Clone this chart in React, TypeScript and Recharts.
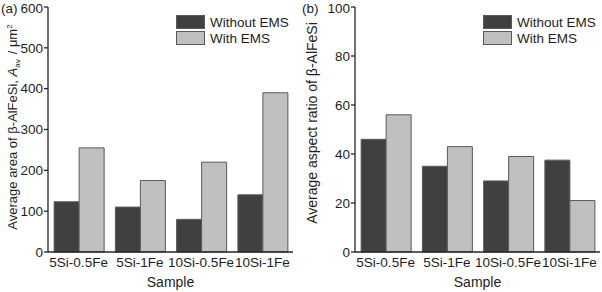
import React from 'react'
import { BarChart, Bar, XAxis, YAxis, Legend } from 'recharts'

const samples = ['5Si-0.5Fe', '5Si-1Fe', '10Si-0.5Fe', '10Si-1Fe']
const seriesNames = ['Without EMS', 'With EMS']
const areaWithout = [123, 110, 80, 140]
const areaWith = [255, 175, 220, 390]
const ratioWithout = [46, 35, 29, 37.5]
const ratioWith = [56, 43, 39, 21]
const areaTicks = [0, 100, 200, 300, 400, 500, 600]
const ratioTicks = [0, 20, 40, 60, 80, 100]

const DARK = '#404040'
const LIGHT = '#c0c0c0'
const EDGE = '#5a5a5a'
const AXIS = '#262626'
const TEXT = '#1e1e1e'
const FONT = '"Liberation Sans", Arial, sans-serif'

const areaData = samples.map((s, i) => ({ sample: s, without: areaWithout[i], with: areaWith[i] }))
const ratioData = samples.map((s, i) => ({ sample: s, without: ratioWithout[i], with: ratioWith[i] }))

function LegendBox({ payload }: any) {
    const items = [...(payload || [])].sort((a: any, b: any) => seriesNames.indexOf(a.value) - seriesNames.indexOf(b.value))
    return (
        <div style={{ fontFamily: FONT, fontSize: 13.5, color: TEXT }}>
            {items.map((p: any) => (
                <div key={p.value} style={{ display: 'flex', alignItems: 'center', height: 16 }}>
                    <span style={{ width: 27, height: 12, background: p.color, border: `1px solid ${EDGE}`, marginRight: 5 }} />
                    <span>{p.value}</span>
                </div>
            ))}
        </div>
    )
}

function AreaTitle({ viewBox }: any) {
    const bx = viewBox.x + 17
    const cy = 127
    return (
        <text x={bx} y={cy} transform={`rotate(-90 ${bx} ${cy})`} textAnchor="middle"
            fontFamily={FONT} fontSize={13} fill={TEXT}>
            <tspan>Average area of β-AlFeSi, </tspan>
            <tspan fontStyle="italic">A</tspan>
            <tspan fontSize={8} dy={3}>av</tspan>
            <tspan dy={-3} dx={5}>/ μm</tspan>
            <tspan fontSize={8} dy={-5}>2</tspan>
        </text>
    )
}

function RatioTitle({ viewBox }: any) {
    const bx = viewBox.x + 17
    const cy = 123
    return (
        <text x={bx} y={cy} transform={`rotate(-90 ${bx} ${cy})`} textAnchor="middle"
            fontFamily={FONT} fontSize={14} fill={TEXT}>
            Average aspect ratio of β-AlFeSi
        </text>
    )
}

const tickStyle = { fontSize: 13.5, fill: TEXT, fontFamily: FONT }

function Panel({ data, ticks, max, title, width, left, legendLeft }: any) {
    return (
        <BarChart width={width} height={292} data={data}
            margin={{ top: 7, right: width - left - 245, left: 0, bottom: 0 }}
            barCategoryGap="10%" barGap={0}>
            <XAxis xAxisId="top" orientation="top" dataKey="sample" height={0} tick={false}
                tickLine={false} axisLine={{ stroke: AXIS, strokeWidth: 1.3 }} />
            <YAxis yAxisId="right" orientation="right" width={0} tick={false} tickLine={false}
                domain={[0, max]} axisLine={{ stroke: AXIS, strokeWidth: 1.3 }} />
            <XAxis dataKey="sample" height={40} tickLine={false} tickSize={3} tickMargin={2}
                axisLine={{ stroke: AXIS, strokeWidth: 1.3 }} tick={tickStyle} interval={0}
                label={{ value: 'Sample', position: 'insideBottom', offset: 5, fontSize: 14, fill: TEXT, fontFamily: FONT }} />
            <YAxis width={left} domain={[0, max]} ticks={ticks} tickSize={4} tickMargin={1}
                axisLine={{ stroke: AXIS, strokeWidth: 1.3 }} tickLine={{ stroke: AXIS, strokeWidth: 1.3 }}
                tick={tickStyle} label={title} />
            <Legend layout="vertical" align="center" verticalAlign="middle" content={<LegendBox />}
                wrapperStyle={{ left: legendLeft, top: 14, width: 'auto' }} />
            <Bar dataKey="without" name="Without EMS" fill={DARK} stroke={EDGE} strokeWidth={1} isAnimationActive={false} />
            <Bar dataKey="with" name="With EMS" fill={LIGHT} stroke={EDGE} strokeWidth={1} isAnimationActive={false} />
        </BarChart>
    )
}

export default function App() {
    return (
        <div style={{ position: 'absolute', left: 0, top: 0, width: 602, height: 292, background: '#fff', fontFamily: FONT }}>
            <div style={{ position: 'absolute', left: 0, top: 0 }}>
                <Panel data={areaData} ticks={areaTicks} max={600} title={<AreaTitle />} width={300} left={48} legendLeft={176} />
            </div>
            <div style={{ position: 'absolute', left: 300, top: 0 }}>
                <Panel data={ratioData} ticks={ratioTicks} max={100} title={<RatioTitle />} width={302} left={55} legendLeft={183} />
            </div>
            <div style={{ position: 'absolute', left: 1, top: 2, fontSize: 13.5, lineHeight: '13px', color: TEXT }}>(a)</div>
            <div style={{ position: 'absolute', left: 302, top: 2, fontSize: 13.5, lineHeight: '13px', color: TEXT }}>(b)</div>
        </div>
    )
}
